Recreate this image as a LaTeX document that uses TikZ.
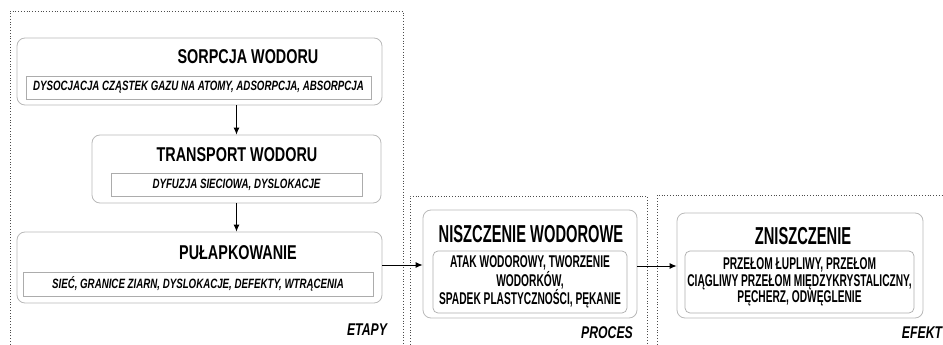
\documentclass[tikz,border=0pt]{standalone}
\usepackage{fontspec}
\newfontfamily\narrowsf[FakeStretch=0.72]{Liberation Sans}
\newfontfamily\narrowersf[FakeStretch=0.6]{Liberation Sans}
\usetikzlibrary{arrows.meta}

\begin{document}
\begin{tikzpicture}[x=1pt, y=-1pt,
  stage/.style={draw=gray!55, rounded corners=8pt, line width=0.8pt, inner sep=0pt},
  inbox/.style={draw=gray!65, line width=0.7pt, inner sep=0pt},
  inround/.style={inbox, rounded corners=5pt},
  frame/.style={draw=black!70, dotted, line width=0.8pt},
  ttl/.style={font=\narrowsf\bfseries\fontsize{20}{22}\selectfont},
  bigttl/.style={font=\narrowersf\bfseries\fontsize{24.5}{26}\selectfont},
  sub/.style={font=\narrowsf\bfseries\itshape\fontsize{13.5}{15}\selectfont},
  body/.style={font=\narrowersf\bfseries\fontsize{17}{16.5}\selectfont, align=center},
  tag/.style={font=\narrowsf\bfseries\itshape\fontsize{17}{18}\selectfont},
  every edge/.style={draw, line width=0.9pt, -{Latex[length=7pt, width=6pt]}}
]
  \useasboundingbox (0,0) rectangle (943,345);

  % dotted frames
  \draw[frame] (10,350) |- (403,11) -- (403,350);
  \draw[frame] (410,350) |- (647,196) -- (647,350);
  \draw[frame] (657,350) |- (950,195);
  \node[tag] (etapy) at (367,330) {ETAPY};
  \node[tag] (proces) at (607,333) {PROCES};
  \node[tag] (efekt) at (922,333) {EFEKT};

  % stages
  \node[stage, minimum width=365pt, minimum height=67pt] (sorp) at (199.5,71.5) {};
  \node[ttl] (sorpttl) at (248,57) {SORPCJA WODORU};
  \node[inbox, sub, minimum width=345pt, minimum height=23pt] (sorpin) at (198.5,87.5)
    {DYSOCJACJA CZĄSTEK GAZU NA ATOMY, ADSORPCJA, ABSORPCJA};

  \node[stage, minimum width=289pt, minimum height=68pt] (trans) at (236.5,169) {};
  \node[ttl] (transttl) at (237,155) {TRANSPORT WODORU};
  \node[inbox, sub, minimum width=251pt, minimum height=23pt] (transin) at (236.5,184.5)
    {DYFUZJA SIECIOWA, DYSLOKACJE};

  \node[stage, minimum width=365pt, minimum height=71pt] (pul) at (199.5,267.5) {};
  \node[ttl] (pulttl) at (238,253) {PUŁAPKOWANIE};
  \node[inbox, sub, minimum width=350pt, minimum height=24pt] (pulin) at (198,284)
    {SIEĆ, GRANICE ZIARN, DYSLOKACJE, DEFEKTY, WTRĄCENIA};

  % process and effect
  \node[stage, minimum width=214pt, minimum height=108pt] (nisz) at (530,264) {};
  \node[bigttl] (niszttl) at (531,234) {NISZCZENIE WODOROWE};
  \node[inround, body, minimum width=194pt, minimum height=62pt] (niszin) at (530,282)
    {ATAK WODOROWY, TWORZENIE\\WODORKÓW,\\SPADEK PLASTYCZNOŚCI, PĘKANIE};

  \node[stage, minimum width=246pt, minimum height=105pt] (znisz) at (800,265.5) {};
  \node[bigttl] (zniszttl) at (803,236) {ZNISZCZENIE};
  \node[inround, body, minimum width=229pt, minimum height=62pt] (zniszin) at (799.5,282)
    {PRZEŁOM ŁUPLIWY, PRZEŁOM\\CIĄGLIWY PRZEŁOM MIĘDZYKRYSTALICZNY,\\PĘCHERZ, ODWĘGLENIE};

  % arrows
  \draw (trans.north |- sorp.south) edge (trans.north);
  \draw (trans.south) edge (trans.south |- pul.north);
  \draw (pul.east |- 0,265) edge (nisz.west |- 0,265);
  \draw (nisz.east |- 0,266) edge (znisz.west |- 0,266);
\end{tikzpicture}
\end{document}
